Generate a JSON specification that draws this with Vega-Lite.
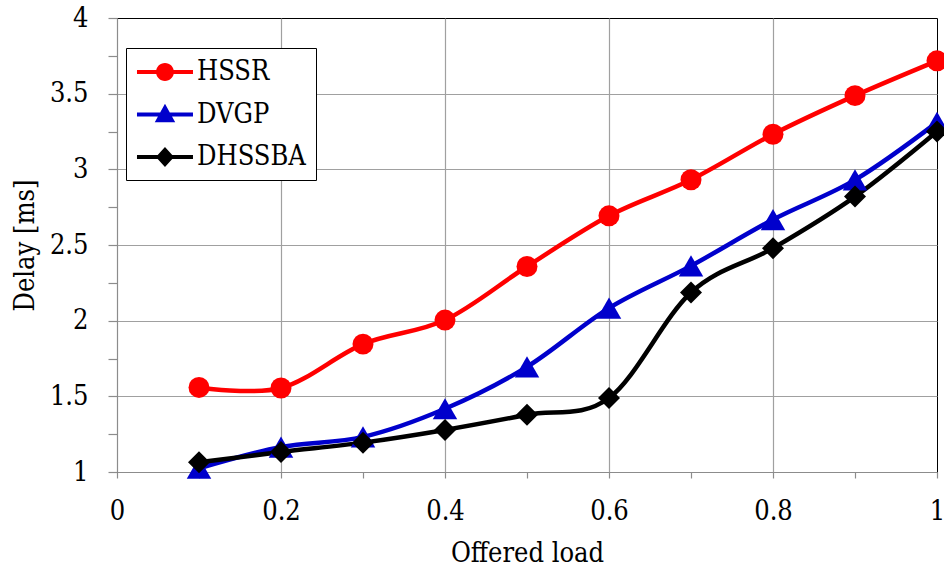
{
  "$schema": "https://vega.github.io/schema/vega-lite/v6.json",
  "width": 820,
  "height": 454,
  "autosize": {"type": "none"},
  "padding": {"left": 117, "top": 18, "right": 7, "bottom": 96},
  "background": "white",
  "config": {
    "view": {"stroke": "#000000", "strokeWidth": 1},
    "font": "DejaVu Serif Condensed, DejaVu Serif",
    "axis": {
      "labelFont": "DejaVu Serif Condensed, DejaVu Serif",
      "titleFont": "DejaVu Serif Condensed, DejaVu Serif",
      "labelFontSize": 27,
      "titleFontSize": 27,
      "labelColor": "#000000",
      "titleColor": "#000000",
      "titleFontWeight": "normal",
      "domainColor": "#8c8c8c",
      "tickColor": "#8c8c8c",
      "gridColor": "#a0a0a0",
      "gridWidth": 1.2,
      "domainWidth": 1.2,
      "tickWidth": 1.2
    }
  },
  "data": {
    "values": [
      {"load": 0.1, "delay": 1.559, "series": "HSSR"},
      {"load": 0.2, "delay": 1.555, "series": "HSSR"},
      {"load": 0.3, "delay": 1.845, "series": "HSSR"},
      {"load": 0.4, "delay": 2.004, "series": "HSSR"},
      {"load": 0.5, "delay": 2.358, "series": "HSSR"},
      {"load": 0.6, "delay": 2.693, "series": "HSSR"},
      {"load": 0.7, "delay": 2.931, "series": "HSSR"},
      {"load": 0.8, "delay": 3.232, "series": "HSSR"},
      {"load": 0.9, "delay": 3.487, "series": "HSSR"},
      {"load": 1.0, "delay": 3.717, "series": "HSSR"},
      {"load": 0.1, "delay": 1.025, "series": "DVGP"},
      {"load": 0.2, "delay": 1.165, "series": "DVGP"},
      {"load": 0.3, "delay": 1.232, "series": "DVGP"},
      {"load": 0.4, "delay": 1.418, "series": "DVGP"},
      {"load": 0.5, "delay": 1.695, "series": "DVGP"},
      {"load": 0.6, "delay": 2.083, "series": "DVGP"},
      {"load": 0.7, "delay": 2.362, "series": "DVGP"},
      {"load": 0.8, "delay": 2.668, "series": "DVGP"},
      {"load": 0.9, "delay": 2.93, "series": "DVGP"},
      {"load": 1.0, "delay": 3.31, "series": "DVGP"},
      {"load": 0.1, "delay": 1.064, "series": "DHSSBA"},
      {"load": 0.2, "delay": 1.132, "series": "DHSSBA"},
      {"load": 0.3, "delay": 1.194, "series": "DHSSBA"},
      {"load": 0.4, "delay": 1.278, "series": "DHSSBA"},
      {"load": 0.5, "delay": 1.378, "series": "DHSSBA"},
      {"load": 0.6, "delay": 1.489, "series": "DHSSBA"},
      {"load": 0.7, "delay": 2.186, "series": "DHSSBA"},
      {"load": 0.8, "delay": 2.479, "series": "DHSSBA"},
      {"load": 0.9, "delay": 2.82, "series": "DHSSBA"},
      {"load": 1.0, "delay": 3.25, "series": "DHSSBA"}
    ]
  },
  "encoding": {
    "x": {
      "field": "load",
      "type": "quantitative",
      "scale": {"domain": [0, 1], "nice": false, "zero": false},
      "axis": {
        "values": [0, 0.1, 0.2, 0.3, 0.4, 0.5, 0.6, 0.7, 0.8, 0.9, 1.0],
        "labelExpr": "round(datum.value*10) % 2 === 0 ? format(datum.value, '~g') : ''",
        "gridOpacity": {"condition": {"test": "round(datum.value*10) % 2 !== 0 || datum.value === 0 || datum.value === 1", "value": 0}, "value": 1},
        "tickSize": 6,
        "labelPadding": 20,
        "labelFlush": false,
        "labelOverlap": false,
        "title": "Offered load",
        "titleY": 89,
        "titleBaseline": "alphabetic"
      }
    },
    "y": {
      "field": "delay",
      "type": "quantitative",
      "scale": {"domain": [1, 4], "nice": false, "zero": false},
      "axis": {
        "values": [1, 1.25, 1.5, 1.75, 2, 2.25, 2.5, 2.75, 3, 3.25, 3.5, 3.75, 4],
        "labelExpr": "(datum.value*2) % 1 === 0 ? format(datum.value, '~g') : ''",
        "gridOpacity": {"condition": {"test": "(datum.value*2) % 1 !== 0 || datum.value === 1 || datum.value === 4", "value": 0}, "value": 1},
        "tickSize": 9,
        "labelPadding": 20,
        "labelFlush": false,
        "labelOverlap": false,
        "title": "Delay [ms]",
        "titleX": -84,
        "titleY": 227,
        "titleAngle": -90,
        "titleAlign": "center",
        "titleBaseline": "alphabetic"
      }
    },
    "color": {
      "field": "series",
      "type": "nominal",
      "scale": {"domain": ["HSSR", "DVGP", "DHSSBA"], "range": ["#ff0000", "#0000cc", "#000000"]},
      "legend": {
        "title": null,
        "orient": "none",
        "legendX": 9,
        "legendY": 30,
        "padding": 10,
        "fillColor": "#ffffff",
        "strokeColor": "#000000",
        "labelFont": "DejaVu Serif Condensed, DejaVu Serif",
        "labelFontSize": 27,
        "labelColor": "#000000",
        "labelOffset": 33,
        "rowPadding": 15.5,
        "symbolSize": 784,
        "symbolStrokeWidth": 0,
        "symbolType": "circle",
        "labelLimit": 300,
        "encode": {
          "symbols": {
            "update": {
              "shape": {"signal": "datum.value === 'HSSR' ? 'M-0.93,-0.15L3.07,-0.15L3.07,0.15L-0.93,0.15Z M0.43,0A0.64,0.64 0 1,1 1.71,0A0.64,0.64 0 1,1 0.43,0Z' : datum.value === 'DVGP' ? 'M-0.93,-0.15L3.07,-0.15L3.07,0.15L-0.93,0.15Z M1.07,-0.76L1.8,0.56L0.34,0.56Z' : 'M-0.93,-0.15L3.07,-0.15L3.07,0.15L-0.93,0.15Z M1.07,-0.72L1.72,0L1.07,0.72L0.42,0Z'"},
              "size": {"value": 784},
              "fill": {"scale": "color", "field": "value"},
              "fillOpacity": {"value": 1},
              "opacity": {"value": 1},
              "strokeWidth": {"value": 0}
            }
          }
        }
      }
    }
  },
  "layer": [
    {
      "mark": {"type": "line", "interpolate": "cardinal", "tension": 0, "strokeWidth": 4.5}
    },
    {
      "transform": [{"filter": "datum.series === 'HSSR'"}],
      "mark": {"type": "point", "filled": true, "opacity": 1, "shape": "circle", "size": 440}
    },
    {
      "transform": [{"filter": "datum.series === 'DVGP'"}],
      "mark": {"type": "point", "filled": true, "opacity": 1, "shape": "triangle-up", "size": 600}
    },
    {
      "transform": [{"filter": "datum.series === 'DHSSBA'"}],
      "mark": {"type": "point", "filled": true, "opacity": 1, "shape": "diamond", "size": 484}
    }
  ]
}
